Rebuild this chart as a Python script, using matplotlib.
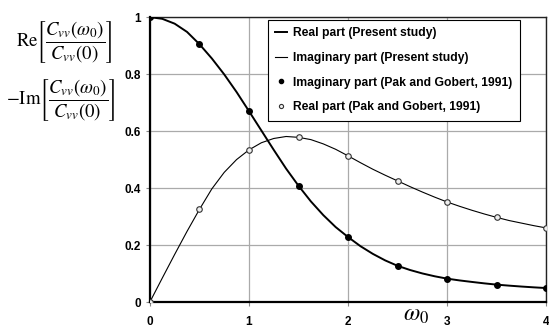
import numpy as np
import matplotlib
matplotlib.use("Agg")
import matplotlib.pyplot as plt

plt.rcParams['mathtext.fontset'] = 'stix'

# Pak and Gobert (1991) points
w_pts = [0, 0.5, 1, 1.5, 2, 2.5, 3, 3.5, 4]
re_pts = [1.0, 0.905, 0.67, 0.408, 0.228, 0.127, 0.082, 0.061, 0.049]
im_pts = [0.0, 0.325, 0.534, 0.578, 0.513, 0.425, 0.351, 0.297, 0.26]

# present study curves (every 0.125)
w_curve = [0, 0.125, 0.25, 0.375, 0.5, 0.625, 0.75, 0.875,
           1.0, 1.125, 1.25, 1.375, 1.5, 1.625, 1.75, 1.875,
           2.0, 2.125, 2.25, 2.375, 2.5, 2.625, 2.75, 2.875,
           3.0, 3.125, 3.25, 3.375, 3.5, 3.625, 3.75, 3.875, 4.0]
re_curve = [1.0, 0.994, 0.977, 0.948, 0.905, 0.855, 0.799, 0.737,
            0.67, 0.602, 0.534, 0.468, 0.408, 0.353, 0.305, 0.263,
            0.228, 0.196, 0.169, 0.146, 0.127, 0.1124, 0.1003, 0.0903,
            0.082, 0.0758, 0.0705, 0.0655, 0.061, 0.0575, 0.0543, 0.0515, 0.049]
im_curve = [0.0, 0.084, 0.167, 0.248, 0.325, 0.397, 0.455, 0.5,
            0.534, 0.559, 0.574, 0.581, 0.578, 0.57, 0.555, 0.536,
            0.513, 0.489, 0.466, 0.445, 0.425, 0.405, 0.386, 0.368,
            0.351, 0.336, 0.322, 0.309, 0.297, 0.286, 0.277, 0.268, 0.26]

xticks = [0, 1, 2, 3, 4]
yticks = [0, 0.2, 0.4, 0.6, 0.8, 1]
ytick_labels = ['0', '0.2', '0.4', '0.6', '0.8', '1']

fig = plt.figure(figsize=(5.49, 3.29), dpi=100)
ax = fig.add_axes([0.273, 0.082, 0.722, 0.866])

ax.plot(w_curve, re_curve, color='black', lw=1.4, label='Real part (Present study)', zorder=3)
ax.plot(w_curve, im_curve, color='black', lw=0.8, label='Imaginary part (Present study)', zorder=3)
ax.plot(w_pts, re_pts, 'o', ms=4, color='black', label='Imaginary part (Pak and Gobert, 1991)', zorder=4)
ax.plot(w_pts, im_pts, 'o', ms=4, mfc='#eeeeee', mec='#333333', mew=0.8,
        label='Real part (Pak and Gobert, 1991)', zorder=4)

ax.set_xlim(0, 4)
ax.set_ylim(0, 1)
ax.set_xticks(xticks)
ax.set_yticks(yticks)
ax.set_yticklabels(ytick_labels)
ax.grid(True, color='#aaaaaa', lw=0.9)
ax.set_axisbelow(True)
ax.tick_params(length=3, color='#888888', width=0.8, labelsize=8.5)
ax.tick_params(axis='x', pad=7)
for lab in ax.get_xticklabels() + ax.get_yticklabels():
    lab.set_fontweight('bold')
    lab.set_fontfamily('Liberation Sans')
for side in ['left', 'bottom']:
    ax.spines[side].set_linewidth(1.6)
for side in ['top', 'right']:
    ax.spines[side].set_linewidth(1.0)
    ax.spines[side].set_color('#222222')

leg = ax.legend(loc='upper right', bbox_to_anchor=(0.933, 0.99), fancybox=False, framealpha=1,
                edgecolor='black', handlelength=1.0, handletextpad=0.5, labelspacing=1.05,
                borderpad=0.6, markerscale=0.75, borderaxespad=0,
                prop={'family': 'Liberation Sans', 'weight': 'bold', 'size': 8.7})
leg.get_frame().set_linewidth(0.8)

fig.text(0.117, 0.872, r'$\mathrm{Re}\left[\dfrac{C_{vv}(\omega_0)}{C_{vv}(0)}\right]$',
         ha='center', va='center', fontsize=13.5)
fig.text(0.11, 0.696, r'$-\mathrm{Im}\left[\dfrac{C_{vv}(\omega_0)}{C_{vv}(0)}\right]$',
         ha='center', va='center', fontsize=13.5)
fig.text(0.758, 0.045, r'$\omega_0$', ha='center', va='center', fontsize=17)

fig.savefig('out.png', dpi=100)
